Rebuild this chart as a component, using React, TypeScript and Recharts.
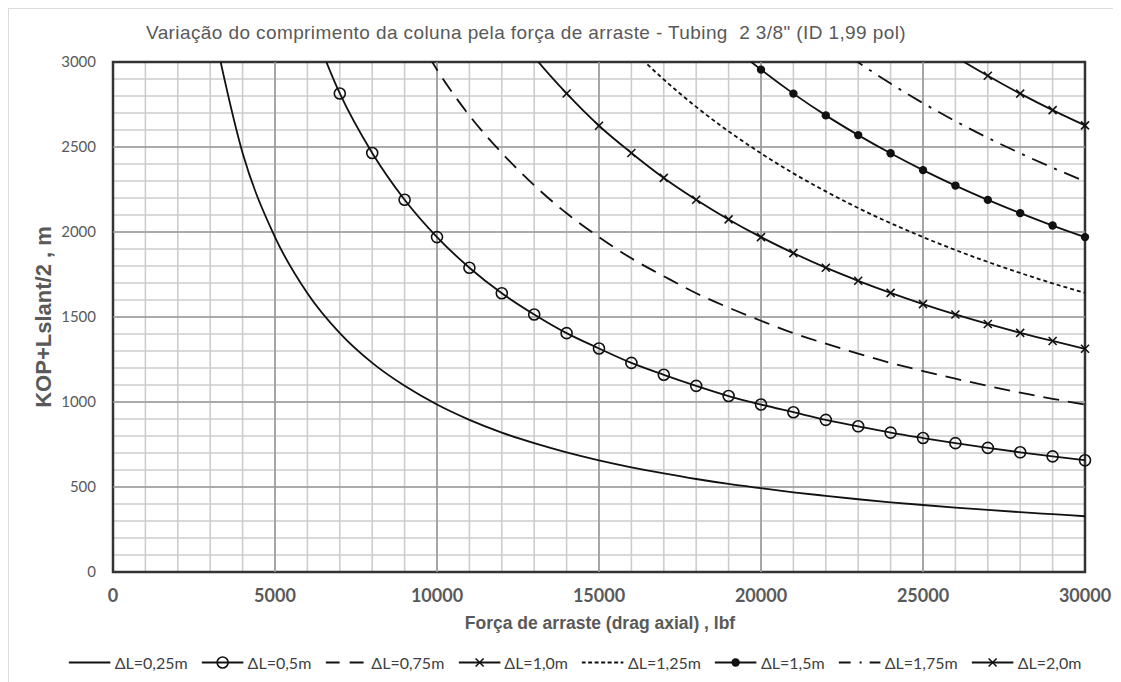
import React from "react"
import {
  LineChart,
  Line,
  XAxis,
  YAxis,
  CartesianGrid,
  ReferenceLine,
  ReferenceArea,
} from "recharts"

// força de arraste (lbf) at every 1000
const forceLbf = [
  1000, 2000, 3000, 4000, 5000, 6000, 7000, 8000, 9000, 10000,
  11000, 12000, 13000, 14000, 15000, 16000, 17000, 18000, 19000, 20000,
  21000, 22000, 23000, 24000, 25000, 26000, 27000, 28000, 29000, 30000,
]

// KOP+Lslant/2 (m)
const dl025 = [
  null, null, 3285, 2465, 1970, 1640, 1405, 1230, 1095, 985,
  895, 820, 758, 704, 657, 616, 580, 547, 518, 493,
  469, 448, 428, 410, 394, 379, 365, 352, 340, 328,
]
const dl050 = [
  null, null, null, null, null, 3285, 2815, 2465, 2190, 1970,
  1790, 1640, 1515, 1405, 1315, 1230, 1160, 1095, 1035, 985,
  940, 895, 857, 820, 788, 758, 730, 704, 680, 657,
]
const dl075 = [
  null, null, null, null, null, null, null, null, 3285, 2955,
  2685, 2465, 2275, 2110, 1970, 1845, 1740, 1640, 1555, 1478,
  1405, 1343, 1285, 1230, 1182, 1137, 1095, 1055, 1019, 985,
]
const dl100 = [
  null, null, null, null, null, null, null, null, null, null,
  null, 3285, 3030, 2815, 2625, 2465, 2318, 2190, 2074, 1970,
  1876, 1790, 1713, 1642, 1576, 1515, 1459, 1407, 1359, 1313,
]
const dl125 = [
  null, null, null, null, null, null, null, null, null, null,
  null, null, null, null, 3283, 3078, 2897, 2736, 2592, 2463,
  2345, 2239, 2141, 2052, 1970, 1894, 1824, 1759, 1698, 1642,
]
const dl150 = [
  null, null, null, null, null, null, null, null, null, null,
  null, null, null, null, null, null, null, 3283, 3111, 2955,
  2814, 2686, 2570, 2463, 2364, 2273, 2189, 2111, 2038, 1970,
]
const dl175 = [
  null, null, null, null, null, null, null, null, null, null,
  null, null, null, null, null, null, null, null, null, null,
  3283, 3134, 2998, 2873, 2758, 2652, 2554, 2463, 2378, 2298,
]
const dl200 = [
  null, null, null, null, null, null, null, null, null, null,
  null, null, null, null, null, null, null, null, null, null,
  null, null, null, null, 3152, 3031, 2919, 2814, 2717, 2627,
]

const xLabelTicks = [0, 5000, 10000, 15000, 20000, 25000, 30000]
const yLabelTicks = [0, 500, 1000, 1500, 2000, 2500, 3000]

const series = [
  { key: "dl025", name: "ΔL=0,25m", values: dl025, dash: undefined, legendDash: undefined, marker: "none" },
  { key: "dl050", name: "ΔL=0,5m", values: dl050, dash: undefined, legendDash: undefined, marker: "open" },
  { key: "dl075", name: "ΔL=0,75m", values: dl075, dash: "16 9", legendDash: "14 10", marker: "none" },
  { key: "dl100", name: "ΔL=1,0m", values: dl100, dash: undefined, legendDash: undefined, marker: "cross" },
  { key: "dl125", name: "ΔL=1,25m", values: dl125, dash: "4 3", legendDash: "4 2.5", marker: "none" },
  { key: "dl150", name: "ΔL=1,5m", values: dl150, dash: undefined, legendDash: undefined, marker: "dot" },
  { key: "dl175", name: "ΔL=1,75m", values: dl175, dash: "16 8 3 8", legendDash: "12 9 2 8", marker: "none" },
  { key: "dl200", name: "ΔL=2,0m", values: dl200, dash: undefined, legendDash: undefined, marker: "cross" },
]

const data = forceLbf.map((x, i) => {
  const row: Record<string, number | null> = { x }
  series.forEach((s) => (row[s.key] = s.values[i]))
  return row
})

const xGridTicks = Array.from({ length: 31 }, (_, i) => i * 1000)
const yGridTicks = Array.from({ length: 31 }, (_, i) => i * 100)

const TEXT = "#595959"
const INK = "#111"

function Marker({ kind, cx, cy }: { kind: string; cx: number; cy: number }) {
  if (kind === "open") return <circle cx={cx} cy={cy} r={5.5} fill="none" stroke={INK} strokeWidth={1.6} />
  if (kind === "dot") return <circle cx={cx} cy={cy} r={4.2} fill={INK} stroke="none" />
  if (kind === "cross")
    return (
      <g stroke={INK} strokeWidth={1.6}>
        <line x1={cx - 4} y1={cy - 4} x2={cx + 4} y2={cy + 4} />
        <line x1={cx - 4} y1={cy + 4} x2={cx + 4} y2={cy - 4} />
      </g>
    )
  return null
}

function makeDot(kind: string) {
  return (props: any) => {
    const { cx, cy, index } = props
    if (cx == null || cy == null || props.value == null) return <g key={index} />
    return (
      <g key={index}>
        <Marker kind={kind} cx={cx} cy={cy} />
      </g>
    )
  }
}

function LegendIcon({ dash, marker }: { dash?: string; marker: string }) {
  return (
    <svg width={42} height={14} style={{ marginRight: 4 }}>
      <line x1={0} y1={7} x2={42} y2={7} stroke={INK} strokeWidth={1.8} strokeDasharray={dash} />
      <Marker kind={marker} cx={21} cy={7} />
    </svg>
  )
}

export default function App() {
  return (
    <div
      style={{
        position: "relative",
        width: 1113,
        height: 674,
        boxSizing: "border-box",
        borderLeft: "1px solid #dcdcdc",
        borderTop: "1px solid #dcdcdc",
        background: "#fff",
      }}
    >
      <div
        style={{
          position: "absolute",
          left: 0,
          width: 1034,
          top: 13,
          textAlign: "center",
          fontFamily: "'Liberation Sans', Arial, sans-serif",
          fontSize: 19,
          letterSpacing: 0.4,
          color: TEXT,
          whiteSpace: "pre",
        }}
      >
        {'Variação do comprimento da coluna pela força de arraste - Tubing  2 3/8" (ID 1,99 pol)'}
      </div>

      <LineChart width={1104} height={640} data={data} margin={{ top: 53, right: 28, left: 44, bottom: 47 }}>
        <CartesianGrid stroke="#cdcdcd" strokeWidth={1.6} />
        <XAxis
          type="number"
          dataKey="x"
          domain={[0, 30000]}
          ticks={xGridTicks}
          interval={0}
          tickFormatter={(v: number) => (xLabelTicks.includes(v) ? String(v) : "")}
          tickLine={false}
          axisLine={false}
          tickMargin={11}
          height={30}
          tick={{ fontSize: 18, fontWeight: 700, fill: TEXT, fontFamily: "Lato, sans-serif" }}
        />
        <YAxis
          type="number"
          domain={[0, 3000]}
          allowDataOverflow
          ticks={yGridTicks}
          interval={0}
          tickFormatter={(v: number) => (yLabelTicks.includes(v) ? String(v) : "")}
          tickLine={false}
          axisLine={false}
          tickMargin={11}
          width={60}
          tick={{ fontSize: 15, fill: TEXT, fontFamily: "Lato, sans-serif" }}
        />
        {xLabelTicks.slice(1, -1).map((v) => (
          <ReferenceLine key={"vx" + v} x={v} stroke="#9a9a9a" strokeWidth={1.6} />
        ))}
        {yLabelTicks.slice(1, -1).map((v) => (
          <ReferenceLine key={"hy" + v} y={v} stroke="#9a9a9a" strokeWidth={1.6} />
        ))}
        <ReferenceArea x1={0} x2={30000} y1={0} y2={3000} fill="none" fillOpacity={0} stroke="#333" strokeWidth={2.5} />
        {series.map((s) => (
          <Line
            key={s.key}
            type="monotone"
            dataKey={s.key}
            name={s.name}
            stroke={INK}
            strokeWidth={1.8}
            strokeDasharray={s.dash}
            dot={s.marker === "none" ? false : makeDot(s.marker)}
            activeDot={false}
            isAnimationActive={false}
          />
        ))}
      </LineChart>

      <div
        style={{
          position: "absolute",
          left: 35,
          top: 308,
          transform: "translate(-50%, -50%) rotate(-90deg)",
          whiteSpace: "nowrap",
          fontFamily: "'Liberation Sans', Arial, sans-serif",
          fontWeight: 700,
          fontSize: 22,
          color: TEXT,
        }}
      >
        KOP+Lslant/2 , m
      </div>
      <div
        style={{
          position: "absolute",
          left: 591,
          top: 614,
          transform: "translate(-50%, -50%)",
          whiteSpace: "nowrap",
          fontFamily: "'Liberation Sans', Arial, sans-serif",
          fontWeight: 700,
          fontSize: 17.5,
          color: TEXT,
        }}
      >
        Força de arraste (drag axial) , lbf
      </div>

      <div
        style={{
          position: "absolute",
          left: 566,
          top: 653,
          transform: "translate(-50%, -50%)",
          display: "flex",
          alignItems: "center",
          whiteSpace: "nowrap",
          fontFamily: "Lato, sans-serif",
          fontSize: 16,
          color: "#404040",
        }}
      >
        {series.map((s, i) => (
          <div key={s.key} style={{ display: "flex", alignItems: "center", marginRight: i === series.length - 1 ? 0 : 14 }}>
            <LegendIcon dash={s.legendDash} marker={s.marker} />
            <span>{s.name}</span>
          </div>
        ))}
      </div>
    </div>
  )
}
